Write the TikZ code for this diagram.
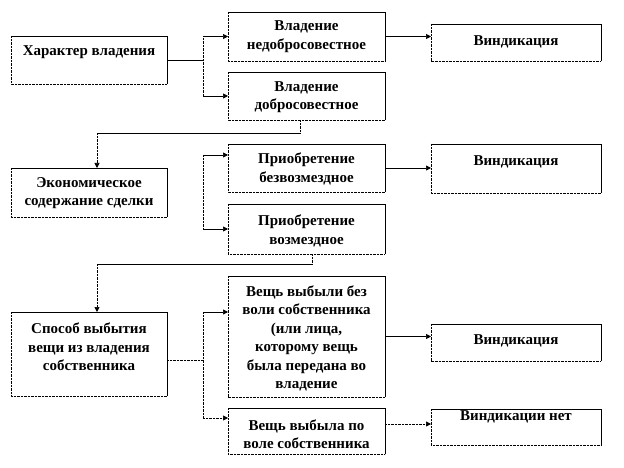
\documentclass[tikz,border=0pt]{standalone}
\usepackage{fontspec}
\setmainfont{Liberation Serif}
\usetikzlibrary{arrows.meta,fit,calc}
\tikzset{
  frame/.style={inner sep=0pt, outer sep=0pt},
  txt/.style={font=\bfseries\fontsize{15}{18.5}\selectfont, align=center, inner sep=0pt},
  solidline/.style={line width=0.7pt, black},
  dotline/.style={line width=0.7pt, black, dash pattern=on 0.7pt off 0.7pt},
  arr/.style={-{Triangle[length=5pt,width=5pt]}},
}
\newcommand{\drawframe}[1]{%
  \draw[solidline] (#1.north west) -- (#1.north east) -- (#1.south east);
  \draw[dotline] (#1.north west) -- (#1.south west) -- (#1.south east);
}
\begin{document}
\begin{tikzpicture}[x=1pt,y=-1pt]
\useasboundingbox (0,0) rectangle (624,468);
\fill[white] (0,0) rectangle (624,468);
% boxes
\node[frame, fit={(11,36) (167,84)}] (A) {};
\node[frame, fit={(228,12) (385,61)}] (B1) {};
\node[frame, fit={(228,72) (385,120)}] (B2) {};
\node[frame, fit={(431,24) (601,61)}] (V1) {};
\node[frame, fit={(11,168) (167,217)}] (C) {};
\node[frame, fit={(228,144) (385,192)}] (D1) {};
\node[frame, fit={(228,204) (385,254)}] (D2) {};
\node[frame, fit={(431,144) (601,193)}] (V2) {};
\node[frame, fit={(11,312) (167,396)}] (E) {};
\node[frame, fit={(228,276) (385,397)}] (F1) {};
\node[frame, fit={(228,408) (385,454)}] (F2) {};
\node[frame, fit={(431,324) (601,361)}] (V3) {};
\node[frame, fit={(431,409) (601,445)}] (V4) {};
\foreach \n in {A,B1,B2,V1,C,D1,D2,V2,E,F1,F2,V3,V4} {\drawframe{\n}}
% texts
\node[txt] (tA) at (89,52) {Характер владения};
\node[txt] (tB1) at (306.5,36.5) {Владение\\недобросовестное};
\node[txt] (tB2) at (306.5,97) {Владение\\добросовестное};
\node[txt] (tV1) at (516,42) {Виндикация};
\node[txt] (tC) at (89,193) {Экономическое\\содержание сделки};
\node[txt] (tD1) at (306.5,169) {Приобретение\\безвозмездное};
\node[txt] (tD2) at (306.5,231) {Приобретение\\возмездное};
\node[txt] (tV2) at (516,162) {Виндикация};
\node[txt] (tE) at (89,347) {Способ выбытия\\вещи из владения\\собственника};
\node[txt] (tF1) at (306.5,338.5) {Вещь выбыли без\\воли собственника\\(или лица,\\которому вещь\\была передана во\\владение};
\node[txt] (tF2) at (306.5,434) {Вещь выбыла по\\воле собственника};
\node[txt] (tV3) at (516,341) {Виндикация};
\node[txt] (tV4) at (516,417) {Виндикации нет};
% helper coordinates
\coordinate (br1) at (203,60);
\coordinate (br1t) at (203,36.5);
\coordinate (br1b) at (203,96);
\coordinate (br2t) at (203,155);
\coordinate (br2b) at (203,229);
\coordinate (br3m) at (203,360);
\coordinate (br3t) at (203,312);
\coordinate (br3b) at (203,418);
\coordinate (k1) at (300,133);
\coordinate (c1) at (97,133);
\coordinate (k2) at (312,264);
\coordinate (c2) at (97,264);
% group 1
\draw[solidline] (A.east) -- (br1);
\draw[dotline] (br1t) -- (br1b);
\draw[solidline,arr] (br1t) -- (br1t -| B1.west);
\draw[solidline,arr] (br1b) -- (br1b -| B2.west);
\draw[solidline,arr] (B1.east |- br1t) -- (V1.west |- br1t);
\draw[dotline] (k1 |- B2.south) -- (k1);
\draw[solidline] (k1) -- (c1);
\draw[dotline,arr] (c1) -- (c1 |- C.north);
% group 2
\draw[dotline] (br2t) -- (br2b);
\draw[solidline,arr] (br2t) -- (br2t -| D1.west);
\draw[solidline,arr] (br2b) -- (br2b -| D2.west);
\draw[solidline,arr] (D1.east) -- (D1.east -| V2.west);
\draw[dotline] (k2 |- D2.south) -- (k2);
\draw[solidline] (k2) -- (c2);
\draw[dotline,arr] (c2) -- (c2 |- E.north);
% group 3
\draw[dotline] (E.east |- br3m) -- (br3m);
\draw[dotline] (br3t) -- (br3b);
\draw[solidline,arr] (br3t) -- (br3t -| F1.west);
\draw[dotline,arr] (br3b) -- (br3b -| F2.west);
\draw[solidline,arr] (F1.east) -- (F1.east -| V3.west);
\draw[dotline,arr] (F2.east |- 0,424) -- (V4.west |- 0,424);
\end{tikzpicture}
\end{document}
